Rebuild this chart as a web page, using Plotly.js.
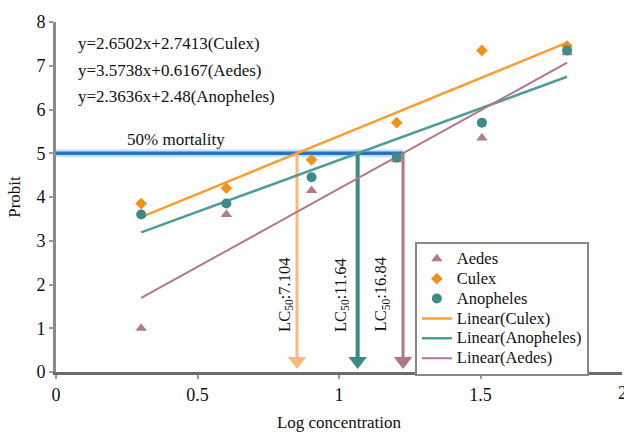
<!DOCTYPE html>
<html><head><meta charset="utf-8">
<script src="https://cdn.plot.ly/plotly-3.0.1.min.js"></script>
<style>body{margin:0;background:#fff}#c{width:624px;height:432px}</style>
</head><body><div id="c"></div>
<script>
const logConc = [0.301, 0.602, 0.903, 1.204, 1.505, 1.806];
const aedes = [1.0, 3.6, 4.15, 4.85, 5.35, 7.3];
const culex = [3.85, 4.2, 4.85, 5.7, 7.35, 7.45];
const anopheles = [3.6, 3.85, 4.45, 4.9, 5.7, 7.35];
const fitCulex = {slope: 2.6502, intercept: 2.7413};
const fitAedes = {slope: 3.5738, intercept: 0.6167};
const fitAnopheles = {slope: 2.3636, intercept: 2.48};
const lc50Values = [7.104, 11.64, 16.84];
const lc50Labels = ['LC<sub>50</sub>:7.104', 'LC<sub>50</sub>:11.64', 'LC<sub>50</sub>:16.84'];
const equations = ['y=2.6502x+2.7413(Culex)', 'y=3.5738x+0.6167(Aedes)', 'y=2.3636x+2.48(Anopheles)'];
const seriesNames = ['Aedes', 'Culex', 'Anopheles', 'Linear(Culex)', 'Linear(Anopheles)', 'Linear(Aedes)'];
const xTickVals = [0, 0.5, 1, 1.5, 2];
const xTickText = ['0', '0.5', '1', '1.5', '2'];
const mortalityProbit = 5;

const C = {aedes:'#b27a8b', culex:'#f0901e', anoph:'#3e8a87',
  lCulex:'#f5a035', lAnoph:'#4f9c98', lAedes:'#b47689',
  aCulex:'#f7b97c', aAnoph:'#3d8985', aAedes:'#b27585', blue:'#2474c2'};

const xs = [logConc[0], logConc[logConc.length-1]];
const fitLine = f => xs.map(x => f.slope*x + f.intercept);
const lcX = lc50Values.map(v => Math.log10(v));
const arrowCols = [C.aCulex, C.aAnoph, C.aAedes];
const F = '"Liberation Serif", serif';
const big = s => '<span style="font-size:16.5px">' + s + '</span>';

const traces = [];
traces.push({x:[0, lcX[2]], y:[mortalityProbit, mortalityProbit], mode:'lines', line:{color:'rgba(36,116,194,0.22)', width:8}, showlegend:false, hoverinfo:'skip'});
traces.push({x:[0, lcX[2]], y:[mortalityProbit, mortalityProbit], mode:'lines', line:{color:C.blue, width:3.5}, showlegend:false, hoverinfo:'skip'});
lcX.forEach((x,i) => {
  traces.push({x:[x,x], y:[mortalityProbit, 0.3], mode:'lines', line:{color:arrowCols[i], width:i===1?4:3}, showlegend:false, hoverinfo:'skip'});
  traces.push({x:[x], y:[0.25], mode:'markers', marker:{symbol:'triangle-down', size:16, color:arrowCols[i]}, showlegend:false, hoverinfo:'skip'});
});
traces.push({x:xs, y:fitLine(fitCulex), mode:'lines', line:{color:C.lCulex, width:2.5}, name:big(seriesNames[3]), legendrank:4});
traces.push({x:xs, y:fitLine(fitAnopheles), mode:'lines', line:{color:C.lAnoph, width:2.5}, name:big(seriesNames[4]), legendrank:5});
traces.push({x:xs, y:fitLine(fitAedes), mode:'lines', line:{color:C.lAedes, width:2}, name:big(seriesNames[5]), legendrank:6});
traces.push({x:logConc, y:aedes, mode:'markers', marker:{symbol:'triangle-up', size:10, color:C.aedes}, name:big(seriesNames[0]), legendrank:1});
traces.push({x:logConc, y:culex, mode:'markers', marker:{symbol:'diamond', size:9, color:C.culex}, name:big(seriesNames[1]), legendrank:2});
traces.push({x:logConc, y:anopheles, mode:'markers', marker:{symbol:'circle', size:10, color:C.anoph}, name:big(seriesNames[2]), legendrank:3});

const annotations = [];
equations.forEach((t,i) => annotations.push({xref:'paper', yref:'y', x:0.036, y:7.5 - i*0.6, text:t, showarrow:false, xanchor:'left', font:{family:F, size:17, color:'#111'}}));
annotations.push({xref:'x', yref:'y', x:0.245, y:5.32, text:'50% mortality', showarrow:false, xanchor:'left', font:{family:F, size:17, color:'#111'}});
const labX = [0.807, 1.005, 1.148];
lc50Labels.forEach((t,i) => annotations.push({xref:'x', yref:'y', x:labX[i], y:1.77, text:t, textangle:-90, showarrow:false, font:{family:F, size:16.5, color:'#111'}}));
annotations.push({xref:'x', yref:'paper', x:xTickVals[4], y:0, yshift:-9, text:xTickText[4], showarrow:false, xanchor:'center', yanchor:'top', font:{family:F, size:18, color:'#111'}});

const layout = {
  width:624, height:432, margin:{l:56, r:2, t:22, b:60},
  paper_bgcolor:'#fff', plot_bgcolor:'#fff', showlegend:true,
  font:{family:F, color:'#111'},
  xaxis:{range:[0,2], tickvals:xTickVals.slice(0,4), ticktext:xTickText.slice(0,4), showgrid:false, zeroline:false,
    showline:true, linecolor:'#6b6b6b', linewidth:3, ticks:'outside', ticklen:4, tickwidth:2, tickcolor:'#999',
    tickfont:{family:F, size:18, color:'#111'},
    title:{text:'Log concentration', font:{family:F, size:17, color:'#111'}, standoff:22}},
  yaxis:{range:[0,8], tickvals:[0,1,2,3,4,5,6,7,8], showgrid:false, zeroline:false,
    showline:true, linecolor:'#8a8a8a', linewidth:3, ticks:'outside', ticklen:4, tickwidth:2, tickcolor:'#999',
    tickfont:{family:F, size:18, color:'#111'},
    title:{text:'Probit', font:{family:F, size:17, color:'#111'}, standoff:12}},
  legend:{x:0.634, y:0.372, xanchor:'left', yanchor:'top', bgcolor:'#fff', bordercolor:'#888', borderwidth:2,
    font:{family:F, size:13, color:'#111'}, tracegroupgap:0, itemwidth:30},
  annotations: annotations
};
Plotly.newPlot('c', traces, layout, {displayModeBar:false, staticPlot:true});
</script></body></html>
